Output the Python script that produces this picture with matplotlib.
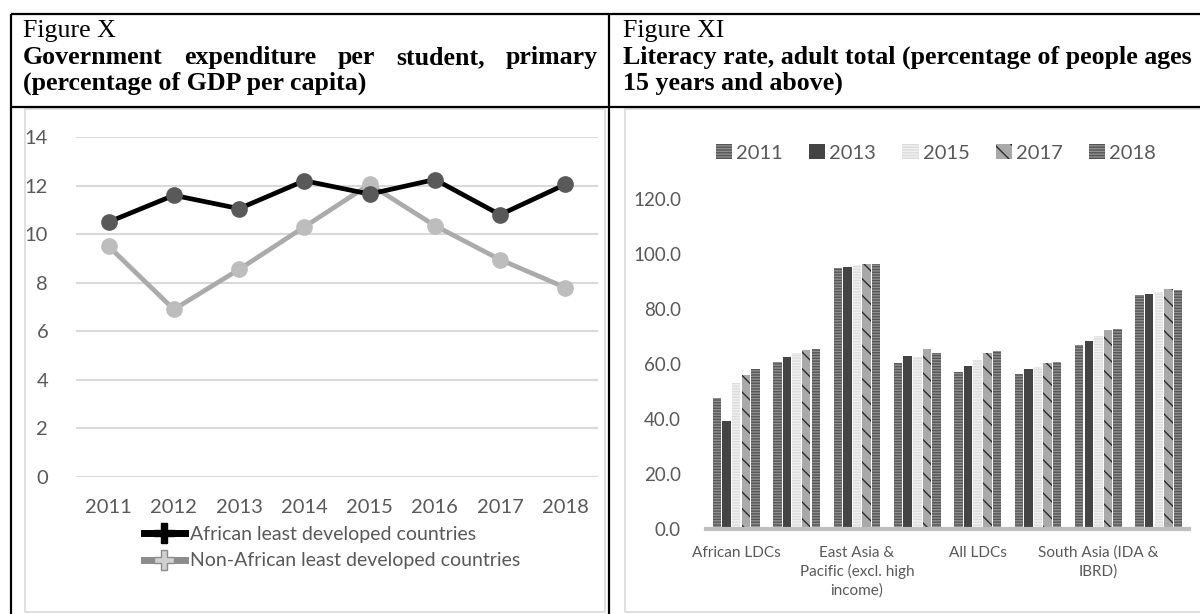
import numpy as np
import matplotlib
matplotlib.use("Agg")
import matplotlib.pyplot as plt
from matplotlib.lines import Line2D
from matplotlib.patches import Rectangle

# --- data: left chart (expenditure per student, % of GDP per capita) ---
years = ["2011", "2012", "2013", "2014", "2015", "2016", "2017", "2018"]
african_ldcs = [10.5, 11.6, 11.05, 12.2, 11.65, 12.25, 10.8, 12.05]
non_african_ldcs = [9.5, 6.9, 8.55, 10.3, 12.05, 10.35, 8.95, 7.8]

# --- data: right chart (adult literacy rate) ---
regions = ["African LDCs", "", "East Asia &\nPacific (excl. high\nincome)", "",
           "All LDCs", "", "South Asia (IDA &\nIBRD)", ""]
lit_years = ["2011", "2013", "2015", "2017", "2018"]
lit_2011 = [47.8, 60.6, 95.0, 60.5, 57.1, 56.3, 67.0, 85.0]
lit_2013 = [39.4, 62.7, 95.2, 62.8, 59.3, 58.0, 68.5, 85.5]
lit_2015 = [53.0, 64.0, 95.9, 62.7, 61.3, 58.9, 70.1, 86.2]
lit_2017 = [56.1, 65.0, 96.4, 65.5, 64.1, 60.5, 72.3, 87.1]
lit_2018 = [58.3, 65.4, 96.3, 64.0, 64.8, 60.9, 72.8, 86.8]

W, H = 1200, 614
fig = plt.figure(figsize=(W / 100, H / 100), dpi=100)
plt.rcParams['hatch.linewidth'] = 1.0


def fx(px):
    return px / W


def fy(py):
    return 1 - py / H


# --- table borders ---
black = dict(color="black", lw=1.6, solid_capstyle="butt")
fig.add_artist(Line2D([fx(11), 1], [fy(14), fy(14)], **black))
fig.add_artist(Line2D([fx(11), 1], [fy(107), fy(107)], **black))
fig.add_artist(Line2D([fx(11), fx(11)], [fy(14), 0], **black))
fig.add_artist(Line2D([fx(609), fx(609)], [fy(14), 0], **black))

# chart area boxes
fig.add_artist(Rectangle((fx(25), fy(612)), fx(605) - fx(25), fy(109) - fy(612),
                         fill=False, ec="#d9d9d9", lw=1.2))
fig.add_artist(Rectangle((fx(625), fy(612)), 1 - fx(625) + 0.01, fy(109) - fy(612),
                         fill=False, ec="#d9d9d9", lw=1.2))

# --- titles ---
serif = "Liberation Serif"
tsize = 18.6
fig.text(fx(23), fy(37), "Figure X", family=serif, size=tsize, va="baseline")
fig.text(fx(623), fy(37), "Figure XI", family=serif, size=tsize, va="baseline")

# justified second line on the left
words = "Government expenditure per student, primary".split()
renderer = fig.canvas.get_renderer()
tmp = [fig.text(0, 0, w, family=serif, size=tsize, weight="bold") for w in words]
widths = [t.get_window_extent(renderer).width for t in tmp]
for t in tmp:
    t.remove()
x0, x1 = 23, 598
gap = (x1 - x0 - sum(widths)) / (len(words) - 1)
xpos = x0
for w, wd in zip(words, widths):
    fig.text(fx(xpos), fy(64), w, family=serif, size=tsize, weight="bold", va="baseline")
    xpos += wd + gap
fig.text(fx(23), fy(90), "(percentage of GDP per capita)", family=serif, size=tsize,
         weight="bold", va="baseline")
fig.text(fx(623), fy(64), "Literacy rate, adult total (percentage of people ages",
         family=serif, size=tsize, weight="bold", va="baseline")
fig.text(fx(623), fy(90), "15 years and above)", family=serif, size=tsize,
         weight="bold", va="baseline")

sans = "Lato"
grey_txt = "#595959"

# --- left chart: lines ---
ax1 = fig.add_axes([fx(76), fy(477), fx(598) - fx(76), fy(137) - fy(477)])
x = np.arange(len(years))
ax1.plot(x, non_african_ldcs, color="#ababab", lw=3.4, marker="o", ms=11,
         mfc="#bdbdbd", mec="#bdbdbd", zorder=3)
ax1.plot(x, african_ldcs, color="black", lw=3.4, marker="o", ms=11,
         mfc="#595959", mec="#595959", zorder=4)
ax1.set_xlim(-0.5, len(years) - 0.5)
ax1.set_ylim(0, 14)
ax1.set_yticks(range(0, 15, 2))
ax1.set_xticks(x, years)
ax1.grid(axis="y", color="#d9d9d9", lw=1.5)
ax1.set_axisbelow(True)
for s in ax1.spines.values():
    s.set_visible(False)
ax1.tick_params(length=0, labelsize=14.5, labelcolor=grey_txt, pad=16)
ax1.tick_params(axis="y", pad=20)
for lab in ax1.get_xticklabels() + ax1.get_yticklabels():
    lab.set_family(sans)

handles = [
    Line2D([], [], color="black", lw=5, marker="P", ms=15, mfc="black", mec="black"),
    Line2D([], [], color="#8c8c8c", lw=5, marker="P", ms=15, mfc="#d0d0d0", mec="#8c8c8c"),
]
fig.legend(handles, ["African least developed countries",
                     "Non-African least developed countries"],
           loc="upper left", bbox_to_anchor=(fx(134), fy(516)), frameon=False,
           prop={"family": sans, "size": 14}, labelcolor=grey_txt,
           handlelength=2.1, handletextpad=0.3, labelspacing=0.5, borderpad=0)

# --- right chart: grouped bars ---
ax2 = fig.add_axes([fx(706), fy(529), fx(1189) - fx(706), fy(199) - fy(529)])
series = [lit_2011, lit_2013, lit_2015, lit_2017, lit_2018]
styles = [
    dict(fc="#575757", hatch="------", ec="#8e8e8e"),
    dict(fc="#444444", hatch=None, ec="#444444"),
    dict(fc="#dcdcdc", hatch="------", ec="#f0f0f0"),
    dict(fc="#a9a9a9", hatch="\\\\", ec="#2c2c2c"),
    dict(fc="#555555", hatch="------", ec="#909090"),
]
gx = np.arange(len(regions))
bw = 0.159
for j, (vals, st, yr) in enumerate(zip(series, styles, lit_years)):
    pos = gx + (j - 2) * bw
    ax2.bar(pos, vals, width=bw * 0.88, color=st["fc"], hatch=st["hatch"],
            edgecolor=st["ec"], linewidth=0, label=yr)
ax2.set_xlim(-0.5, len(regions) - 0.5)
ax2.set_ylim(0, 120)
ax2.set_yticks(range(0, 121, 20))
ax2.set_yticklabels([f"{v:.1f}" for v in range(0, 121, 20)])
ax2.set_xticks(gx, regions)
for s in ["top", "right", "left"]:
    ax2.spines[s].set_visible(False)
ax2.spines["bottom"].set_color("#bfbfbf")
ax2.spines["bottom"].set_linewidth(3)
ax2.tick_params(length=0, labelcolor=grey_txt)
ax2.tick_params(axis="y", labelsize=13.5, pad=18)
ax2.tick_params(axis="x", labelsize=11, pad=12)
for lab in ax2.get_xticklabels():
    lab.set_family(sans)
    lab.set_linespacing(1.35)
for lab in ax2.get_yticklabels():
    lab.set_family(sans)
ax2.legend(loc="upper center", bbox_to_anchor=(fx(936), fy(134)),
           bbox_transform=fig.transFigure, ncol=5, frameon=False,
           prop={"family": sans, "size": 14.5}, labelcolor=grey_txt,
           handlelength=0.8, handleheight=0.8, handletextpad=0.2, columnspacing=1.3,
           borderpad=0)

fig.savefig("out.png", dpi=100)
